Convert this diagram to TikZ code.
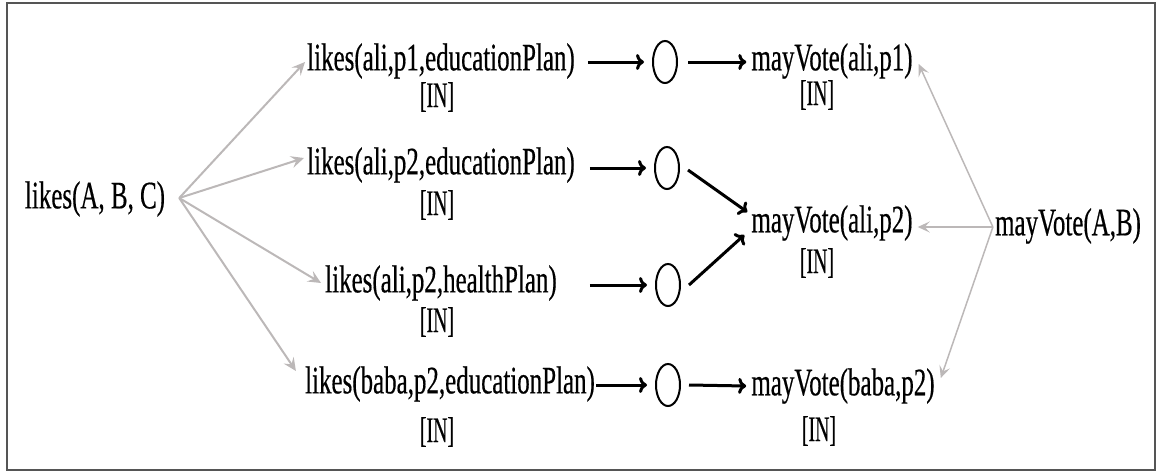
\documentclass[tikz,border=0pt]{standalone}
\usepackage{fontspec}
\setmainfont{Liberation Serif}[FakeStretch=0.64,FakeBold=0.4]
\newfontfamily\statusfont{Liberation Serif}[FakeStretch=0.55,FakeBold=0.4]
\usetikzlibrary{arrows.meta,shapes.geometric}
\definecolor{edgegray}{RGB}{188,184,184}
\definecolor{framegray}{RGB}{85,85,85}

\begin{document}
\begin{tikzpicture}[x=1pt,y=-1pt,
  term/.style={inner sep=0pt, font=\fontsize{39}{39}\selectfont},
  status/.style={inner sep=0pt, font=\statusfont\fontsize{36}{36}\selectfont},
  junction/.style={draw, ellipse, line width=2, minimum width=24, minimum height=42, inner sep=0pt},
  flow/.style={line width=3, -{To[length=8,width=16]}},
  instleft/.style={edgegray, line width=2, -{Stealth[length=13,width=12,inset=5]}},
  instright/.style={edgegray, line width=1.5, -{Stealth[length=12,width=11,inset=5]}}]

\useasboundingbox (0,0) rectangle (1160,474);
\draw[framegray, line width=2] (7,3) rectangle (1155,470);

% rule heads and their instances
\node[term] (src) at (95,199) {likes(A, B, C)};
\node[term] (r1) at (441,61) {likes(ali,p1,educationPlan)};
\node[status] (i1) at (437,97) {[IN]};
\node[term] (r2) at (441,165) {likes(ali,p2,educationPlan)};
\node[status] (i2) at (437,205) {[IN]};
\node[term] (r3) at (441,283) {likes(ali,p2,healthPlan)};
\node[status] (i3) at (437,322) {[IN]};
\node[term] (r4) at (450,384) {likes(baba,p2,educationPlan)};
\node[status] (i4) at (437,432) {[IN]};

% justification nodes
\node[junction] (j1) at (665,62) {};
\node[junction] (j2) at (667,168) {};
\node[junction] (j3) at (668,285) {};
\node[junction] (j4) at (668,385) {};

% conclusions
\node[term] (v1) at (832,61) {mayVote(ali,p1)};
\node[status] (k1) at (817,95) {[IN]};
\node[term] (v2) at (832,223) {mayVote(ali,p2)};
\node[status] (k2) at (817,263) {[IN]};
\node[term] (v3) at (843,386) {mayVote(baba,p2)};
\node[status] (k3) at (819,431) {[IN]};
\node[term] (dst) at (1068,226) {mayVote(A,B)};

% instantiation links
\coordinate (fan) at ([shift={(14,-1)}]src.east);
\draw[instleft] (fan) -- ([shift={(-2,1)}]r1.west);
\draw[instleft] (fan) -- ([shift={(-3,-7)}]r2.west);
\draw[instleft] (fan) -- ([xshift=-4]r3.west);
\draw[instleft] (fan) -- ([shift={(-9,-13)}]r4.west);

\coordinate (join) at ([shift={(-2,1)}]dst.west);
\draw[instright] (join) -- ([shift={(6,3)}]v1.east);
\draw[instright] (join) -- ([shift={(5,4)}]v2.east);
\draw[instright] (join) -- ([shift={(6,-8)}]v3.east);

% support links
\draw[flow] ([shift={(13,1)}]r1.east) -- ([xshift=-8]j1.west);
\draw[flow] ([shift={(15,3)}]r2.east) -- ([xshift=-8]j2.west);
\draw[flow] ([shift={(33,2)}]r3.east) -- ([xshift=-8]j3.west);
\draw[flow] ([shift={(1,1)}]r4.east) -- ([xshift=-8]j4.west);

\draw[flow] ([xshift=10]j1.east) -- ([shift={(-5,1)}]v1.west);
\draw[flow] ([shift={(8,2)}]j2.east) -- ([shift={(-4,-11)}]v2.west);
\draw[flow] ([xshift=8]j3.east) -- ([shift={(-7,12)}]v2.west);
\draw[flow] ([xshift=8]j4.east) -- ([xshift=-5]v3.west);
\end{tikzpicture}
\end{document}
